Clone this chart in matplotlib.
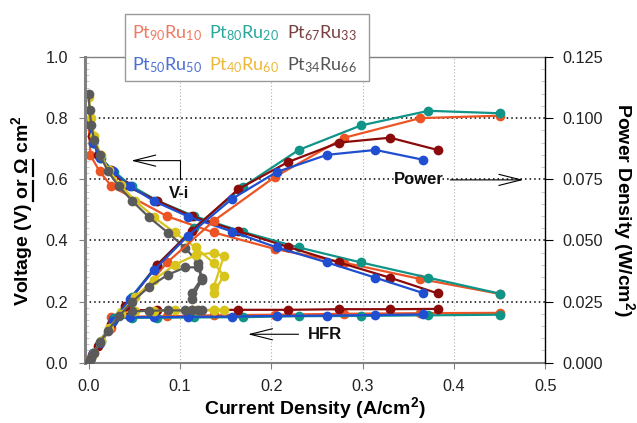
import numpy as np
import matplotlib
matplotlib.use('Agg')
import matplotlib.pyplot as plt
from matplotlib.patches import Rectangle
from matplotlib.lines import Line2D
from matplotlib.ticker import MultipleLocator

nan = np.nan

# Pt90Ru10
i_90 = [0.000, 0.002, 0.012, 0.025, 0.086, 0.137, 0.204, 0.280, 0.363, 0.450]
v_90 = [0.780, 0.678, 0.626, 0.577, 0.479, 0.426, 0.372, 0.327, 0.274, 0.225]
p_90 = [0.000, 0.001, 0.008, 0.014, 0.041, 0.058, 0.076, 0.092, 0.100, 0.101]
hfr_90 = [nan, nan, nan, 0.150, 0.152, 0.155, 0.157, 0.160, 0.162, 0.163]

# Pt80Ru20
i_80 = [0.000, 0.005, 0.013, 0.028, 0.047, 0.075, 0.115, 0.169, 0.230, 0.298, 0.372, 0.450]
v_80 = [0.780, 0.720, 0.670, 0.625, 0.578, 0.530, 0.480, 0.428, 0.377, 0.328, 0.278, 0.226]
p_80 = [0.000, 0.004, 0.009, 0.018, 0.027, 0.040, 0.055, 0.072, 0.087, 0.097, 0.103, 0.102]
hfr_80 = [nan, nan, nan, 0.145, 0.147, 0.147, 0.148, 0.149, 0.152, 0.153, 0.155, 0.157]

# Pt67Ru33
i_67 = [0.000, 0.004, 0.010, 0.025, 0.040, 0.075, 0.113, 0.164, 0.218, 0.274, 0.330, 0.382]
v_67 = [0.780, 0.740, 0.680, 0.630, 0.580, 0.530, 0.479, 0.430, 0.379, 0.328, 0.278, 0.227]
p_67 = [0.000, 0.003, 0.007, 0.016, 0.023, 0.040, 0.054, 0.071, 0.082, 0.090, 0.092, 0.087]
hfr_67 = [nan, nan, nan, nan, 0.172, 0.172, 0.172, 0.173, 0.173, 0.175, 0.175, 0.176]

# Pt50Ru50
i_50 = [0.000, 0.005, 0.012, 0.027, 0.045, 0.072, 0.109, 0.157, 0.206, 0.261, 0.314, 0.366]
v_50 = [0.780, 0.720, 0.670, 0.626, 0.577, 0.528, 0.478, 0.429, 0.377, 0.328, 0.278, 0.228]
p_50 = [0.000, 0.004, 0.008, 0.017, 0.026, 0.038, 0.052, 0.067, 0.078, 0.085, 0.087, 0.083]
hfr_50 = [nan, nan, nan, 0.144, 0.149, 0.149, 0.150, 0.151, 0.153, 0.154, 0.156, 0.158]

# Pt40Ru60
i_40 = [0.000, 0.003, 0.006, 0.013, 0.022, 0.035, 0.051, 0.072, 0.094, 0.117, 0.137, 0.148, 0.137]
v_40 = [0.870, 0.800, 0.740, 0.680, 0.630, 0.580, 0.530, 0.475, 0.426, 0.377, 0.326, 0.285, 0.228]
p_40 = [0.000, 0.002, 0.004, 0.009, 0.014, 0.020, 0.027, 0.034, 0.040, 0.044, 0.045, 0.0435, 0.031]
hfr_40 = [nan, nan, nan, nan, nan, 0.165, 0.168, 0.170, 0.171, 0.171, 0.172, 0.172, 0.172]

# Pt34Ru66
i_34 = [0.000, 0.001, 0.003, 0.006, 0.0126, 0.021, 0.033, 0.048, 0.066, 0.087, 0.106, 0.120, 0.124, 0.113]
v_34 = [0.878, 0.825, 0.777, 0.727, 0.678, 0.626, 0.577, 0.528, 0.476, 0.425, 0.375, 0.326, 0.277, 0.228]
p_34 = [0.000, 0.001, 0.002, 0.004, 0.0085, 0.013, 0.019, 0.025, 0.031, 0.036, 0.039, 0.039, 0.034, 0.026]
hfr_34 = [nan, nan, nan, nan, nan, nan, nan, 0.168, 0.170, 0.171, 0.171, 0.171, 0.172, 0.172]

series = [
    ('Pt$_{90}$Ru$_{10}$', '#EC5424', '#EE7A62', i_90, v_90, p_90, hfr_90),
    ('Pt$_{80}$Ru$_{20}$', '#119488', '#2AA89C', i_80, v_80, p_80, hfr_80),
    ('Pt$_{67}$Ru$_{33}$', '#8B0A0A', '#7A4040', i_67, v_67, p_67, hfr_67),
    ('Pt$_{50}$Ru$_{50}$', '#1F4FD0', '#4C6FD4', i_50, v_50, p_50, hfr_50),
    ('Pt$_{40}$Ru$_{60}$', '#D8C41A', '#EDB838', i_40, v_40, p_40, hfr_40),
    ('Pt$_{34}$Ru$_{66}$', '#5A5A5A', '#555555', i_34, v_34, p_34, hfr_34),
]

plt.rcParams['font.family'] = ['Liberation Sans', 'DejaVu Sans']
plt.rcParams['mathtext.default'] = 'regular'

W, H = 637, 423
fig = plt.figure(figsize=(W / 100, H / 100), dpi=100)
ax = fig.add_axes([85 / W, 1 - 362.7 / H, 460.3 / W, 305.7 / H])
ax2 = ax.twinx()

# gridlines
for yy in [0.2, 0.4, 0.6, 0.8]:
    ax.axhline(yy, color='black', lw=1.1, ls=(0, (1, 2)), zorder=0.5)
for xx in [0.1, 0.2, 0.3, 0.4]:
    ax.axvline(xx, color='#b0b0b0', lw=0.8, ls=(0, (1, 2)), zorder=0.5)

for name, col, lcol, ii, vv, pp, hh in series:
    ax.plot(ii, vv, '-o', color=col, lw=1.6, ms=7, mew=0)
    ax.plot(ii, hh, '-o', color=col, lw=1.6, ms=7, mew=0)
    ax2.plot(ii, pp, '-o', color=col, lw=1.6, ms=7, mew=0)

ax.set_xlim(-0.004, 0.5)
ax.set_ylim(0, 1.0)
ax2.set_ylim(0, 0.125)
ax.set_xticks([0, 0.1, 0.2, 0.3, 0.4, 0.5])
ax.set_xticklabels(['0.0', '0.1', '0.2', '0.3', '0.4', '0.5'])
ax.set_yticks([0, 0.2, 0.4, 0.6, 0.8, 1.0])
ax.set_yticklabels(['0.0', '0.2', '0.4', '0.6', '0.8', '1.0'])
ax2.set_yticks([0, 0.025, 0.05, 0.075, 0.1, 0.125])
ax2.set_yticklabels(['0.000', '0.025', '0.050', '0.075', '0.100', '0.125'])
ax.yaxis.set_minor_locator(MultipleLocator(0.02))
ax2.yaxis.set_minor_locator(MultipleLocator(0.005))

ax.tick_params(axis='both', which='major', labelsize=11.7, color='#808080',
               length=4, pad=8, labelcolor='#222222')
ax.tick_params(axis='y', which='minor', direction='in', length=3, color='#c0c0c0')
ax2.tick_params(axis='y', which='major', labelsize=11.7, length=6, pad=6,
                labelcolor='#222222')
ax2.tick_params(axis='y', which='minor', direction='in', length=3, color='#c0c0c0')

for s in ['left', 'bottom', 'top']:
    ax.spines[s].set_color('#808080')
ax.spines['left'].set_linewidth(2.2)
ax.spines['bottom'].set_linewidth(1.5)
ax.spines['top'].set_linewidth(1.0)
ax.spines['right'].set_visible(False)
for s in ['left', 'bottom', 'top']:
    ax2.spines[s].set_visible(False)
ax2.spines['right'].set_color('black')
ax2.spines['right'].set_linewidth(1.0)

# annotations
bold = dict(fontsize=12, fontweight='bold', color='#111111')
arrow = dict(arrowstyle='->,head_length=1.6,head_width=0.4',
             color='black', lw=0.8, shrinkA=0, shrinkB=0)
ax.text(0.099, 0.552, 'V-i', ha='center', va='center', **bold)
ax.plot([0.1005, 0.1005], [0.601, 0.661], color='black', lw=0.8)
ax.annotate('', xy=(0.0466, 0.661), xytext=(0.1005, 0.661), arrowprops=arrow)
ax.text(0.362, 0.598, 'Power', ha='center', va='center', **bold)
ax.annotate('', xy=(0.476, 0.598), xytext=(0.396, 0.598), arrowprops=arrow)
ax.text(0.259, 0.093, 'HFR', ha='center', va='center', **bold)
ax.annotate('', xy=(0.1744, 0.093), xytext=(0.2298, 0.093), arrowprops=arrow)

# axis labels
lab_kw = dict(fontsize=14, fontweight='bold')
ylab = fig.text(21.7 / W, 1 - 211 / H, r'Voltage (V) or Ω cm$^{2}$', rotation=90,
                ha='center', va='center', **lab_kw)
fig.text(624 / W, 1 - 210 / H, 'Power Density (W/cm$^{2}$)', rotation=270,
         ha='center', va='center', **lab_kw)
fig.text(315 / W, 1 - 414.5 / H, 'Current Density (A/cm$^{2}$)', ha='center',
         va='baseline', **lab_kw)

# underline "or" and "Ω" in the left label
fig.canvas.draw()
rend = fig.canvas.get_renderer()
fp = ylab.get_fontproperties()
def tw(s):
    return rend.get_text_width_height_descent(s, fp, ismath=False)[0]
bb = ylab.get_window_extent(rend)
_, _, desc = rend.get_text_width_height_descent('Voltage (V) or Ω cm', fp, ismath=False)
xline = bb.x1 - desc + 2.0
for pre, word in [('Voltage (V) or', 'or'), ('Voltage (V) or Ω', 'Ω')]:
    end = bb.y0 + tw(pre)
    start = end - tw(word)
    fig.add_artist(Line2D([xline / W, xline / W], [start / H, end / H],
                          transform=fig.transFigure, color='black', lw=1.6))

# legend box
box = Rectangle((125 / W, 1 - 81 / H), 244 / W, 67 / H, transform=fig.transFigure,
                facecolor='white', edgecolor='#999999', lw=1, zorder=5)
fig.add_artist(box)
cols_x = [132, 209, 287]
rows_y = [33, 65]
for k, s in enumerate(series):
    name, lcol = s[0], s[2]
    fig.text(cols_x[k % 3] / W, 1 - rows_y[k // 3] / H, name, color=lcol,
             fontsize=13, ha='left', va='center', family=['Lato', 'DejaVu Sans'],
             zorder=6)

fig.savefig('out.png', dpi=100)
